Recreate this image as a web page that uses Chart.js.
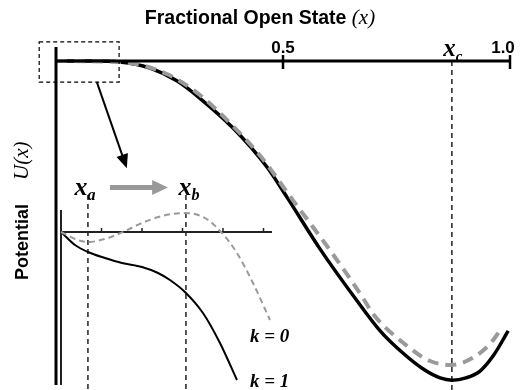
<!DOCTYPE html>
<html>
<head>
<meta charset="utf-8">
<script src="https://cdn.jsdelivr.net/npm/chart.js@4.4.0/dist/chart.umd.min.js"></script>
<style>
html, body { margin: 0; padding: 0; background: #fff; }
#wrap { position: relative; width: 522px; height: 390px; }
#main { position: absolute; left: 0; top: 0; }
#inset { position: absolute; left: 51px; top: 170px; }
</style>
</head>
<body>
<div id="wrap">
  <canvas id="main" width="522" height="390"></canvas>
  <canvas id="inset" width="250" height="220"></canvas>
</div>
<script>
// main plot: potential U(x) against fractional open state x
const mainX_k1 = [0, 0.075, 0.141, 0.207, 0.267, 0.317, 0.390, 0.465, 0.509, 0.581, 0.663, 0.714, 0.751, 0.808, 0.846, 0.872, 0.903, 0.934, 0.963, 0.996];
const mainU_k1 = [0, 0, -0.003, -0.022, -0.062, -0.115, -0.207, -0.328, -0.421, -0.579, -0.740, -0.833, -0.885, -0.950, -0.978, -0.985, -0.978, -0.957, -0.910, -0.833];
const mainX_k0 = [0, 0.141, 0.244, 0.317, 0.390, 0.449, 0.522, 0.604, 0.676, 0.698, 0.773, 0.824, 0.872, 0.918, 0.956, 0.982];
const mainU_k0 = [0, -0.003, -0.040, -0.105, -0.201, -0.291, -0.430, -0.585, -0.731, -0.780, -0.879, -0.926, -0.938, -0.916, -0.873, -0.824];
const mainTicks = [0.5, 1.0];
const mainTickLabels = ['0.5', '1.0'];
const xC = 0.872;

// inset: zoom of the region near x = 0
const insetX_k1 = [0, 0.069, 0.133, 0.217, 0.301, 0.400, 0.479, 0.538, 0.612, 0.701, 0.785, 0.869];
const insetU_k1 = [0, -0.13, -0.20, -0.26, -0.31, -0.35, -0.41, -0.48, -0.60, -0.81, -1.11, -1.48];
const insetX_k0 = [0, 0.069, 0.133, 0.217, 0.306, 0.400, 0.499, 0.612, 0.711, 0.795, 0.869, 0.948, 1.032];
const insetU_k0 = [0, -0.07, -0.10, -0.07, 0, 0.09, 0.16, 0.19, 0.14, -0.01, -0.21, -0.51, -0.88];
const insetTicks = [0.2, 0.4, 0.6, 0.8, 1.0];
const xA = 0.133, xB = 0.617;
const kLabels = ['k = 0', 'k = 1'];

const toPts = (xs, ys) => xs.map((v, i) => ({ x: v, y: ys[i] }));

const serif = "'Liberation Serif', 'DejaVu Serif', serif";
const sans = "'Liberation Sans', Arial, sans-serif";

function subLabel(ctx, cx, base, main, sub, size) {
  ctx.font = 'italic bold ' + size + 'px ' + serif;
  const w1 = ctx.measureText(main).width;
  ctx.font = 'italic bold ' + Math.round(size * 0.6) + 'px ' + serif;
  const w2 = ctx.measureText(sub).width;
  const left = cx - (w1 + w2) / 2;
  ctx.textAlign = 'left';
  ctx.textBaseline = 'alphabetic';
  ctx.font = 'italic bold ' + size + 'px ' + serif;
  ctx.fillText(main, left, base);
  ctx.font = 'italic bold ' + Math.round(size * 0.6) + 'px ' + serif;
  ctx.fillText(sub, left + w1, base + size * 0.18);
}

const mainDecor = {
  id: 'mainDecor',
  beforeDatasetsDraw(chart) {
    const { ctx, scales: { x, y } } = chart;
    const px = x.getPixelForValue(xC);
    ctx.save();
    ctx.strokeStyle = '#111';
    ctx.lineWidth = 1.4;
    ctx.setLineDash([5, 4]);
    ctx.beginPath();
    ctx.moveTo(px, y.getPixelForValue(0));
    ctx.lineTo(px, chart.height);
    ctx.stroke();
    ctx.restore();
  },
  afterDraw(chart) {
    const { ctx, scales: { x, y }, chartArea: a } = chart;
    const y0 = y.getPixelForValue(0);
    ctx.save();
    ctx.strokeStyle = '#000';
    ctx.lineWidth = 3;
    ctx.beginPath();
    ctx.moveTo(a.left, a.top);
    ctx.lineTo(a.left, a.bottom);
    ctx.stroke();
    ctx.beginPath();
    ctx.moveTo(a.left, y0);
    ctx.lineTo(x.getPixelForValue(1), y0);
    ctx.stroke();

    // ticks + labels
    ctx.fillStyle = '#000';
    ctx.font = 'bold 17px ' + sans;
    ctx.textBaseline = 'alphabetic';
    mainTicks.forEach((t, i) => {
      const px = x.getPixelForValue(t);
      ctx.lineWidth = 2.5;
      ctx.beginPath();
      ctx.moveTo(px, y0 - 6);
      ctx.lineTo(px, y0 + 8);
      ctx.stroke();
      ctx.textAlign = 'center';
      const lx = t >= 1 ? px - 7 : px;
      ctx.fillText(mainTickLabels[i], lx, 53);
    });
    subLabel(ctx, x.getPixelForValue(xC) + 1, 56, 'x', 'c', 25);

    // title
    ctx.font = 'bold 19.5px ' + sans;
    const t1 = 'Fractional Open State ';
    const w1 = ctx.measureText(t1).width;
    ctx.font = 'italic 21px ' + serif;
    const w2 = ctx.measureText('(x)').width;
    const tl = 260 - (w1 + w2) / 2;
    ctx.textAlign = 'left';
    ctx.font = 'bold 19.5px ' + sans;
    ctx.fillText(t1, tl, 24);
    ctx.font = 'italic 21px ' + serif;
    ctx.fillText('(x)', tl + w1, 24);

    // y axis title
    ctx.save();
    ctx.translate(28, 280);
    ctx.rotate(-Math.PI / 2);
    ctx.font = 'bold 18px ' + sans;
    ctx.fillText('Potential', 0, 0);
    ctx.font = 'italic 21px ' + serif;
    ctx.fillText('U(x)', 100, 0);
    ctx.restore();

    // dashed zoom box
    ctx.lineWidth = 1.2;
    ctx.setLineDash([4, 3]);
    const bx1 = x.getPixelForValue(-0.037), bx2 = x.getPixelForValue(0.139);
    const by1 = y.getPixelForValue(0.059), by2 = y.getPixelForValue(-0.065);
    ctx.strokeRect(bx1, by1, bx2 - bx1, by2 - by1);
    ctx.setLineDash([]);

    // black arrow to inset
    const ax1 = x.getPixelForValue(0.090), ay1 = y.getPixelForValue(-0.065);
    const ax2 = x.getPixelForValue(0.156), ay2 = y.getPixelForValue(-0.331);
    const ang = Math.atan2(ay2 - ay1, ax2 - ax1);
    ctx.lineWidth = 2;
    ctx.beginPath();
    ctx.moveTo(ax1, ay1);
    ctx.lineTo(ax2 - 10 * Math.cos(ang), ay2 - 10 * Math.sin(ang));
    ctx.stroke();
    ctx.beginPath();
    ctx.moveTo(ax2, ay2);
    ctx.lineTo(ax2 - 14 * Math.cos(ang) + 6 * Math.sin(ang), ay2 - 14 * Math.sin(ang) - 6 * Math.cos(ang));
    ctx.lineTo(ax2 - 14 * Math.cos(ang) - 6 * Math.sin(ang), ay2 - 14 * Math.sin(ang) + 6 * Math.cos(ang));
    ctx.closePath();
    ctx.fill();
    ctx.restore();
  }
};

new Chart(document.getElementById('main'), {
  type: 'line',
  data: {
    datasets: [
      {
        label: 'k = 0',
        data: toPts(mainX_k0, mainU_k0),
        borderColor: '#9a9a9a',
        borderWidth: 4,
        borderDash: [11, 7],
        pointRadius: 0,
        cubicInterpolationMode: 'monotone',
        fill: false
      },
      {
        label: 'k = 1',
        data: toPts(mainX_k1, mainU_k1),
        borderColor: '#000',
        borderWidth: 3.5,
        pointRadius: 0,
        cubicInterpolationMode: 'monotone',
        fill: false
      }
    ]
  },
  options: {
    responsive: false,
    animation: false,
    events: [],
    layout: { padding: { left: 56, right: 12, top: 47, bottom: 5 } },
    plugins: { legend: { display: false }, tooltip: { enabled: false } },
    scales: {
      x: { type: 'linear', display: false, min: 0, max: 1 },
      y: { display: false, min: -1.0, max: 0.0433 }
    }
  },
  plugins: [mainDecor]
});

const insetDecor = {
  id: 'insetDecor',
  beforeDatasetsDraw(chart) {
    const { ctx, scales: { x, y } } = chart;
    const y0 = y.getPixelForValue(0);
    ctx.save();
    // dashed markers at x_a and x_b
    ctx.strokeStyle = '#111';
    ctx.lineWidth = 1.4;
    ctx.setLineDash([5, 4]);
    [xA, xB].forEach(v => {
      const px = x.getPixelForValue(v);
      ctx.beginPath();
      ctx.moveTo(px, y.getPixelForValue(0.37));
      ctx.lineTo(px, chart.height);
      ctx.stroke();
    });
    ctx.setLineDash([]);
    // axes
    ctx.strokeStyle = '#222';
    ctx.lineWidth = 2;
    ctx.beginPath();
    ctx.moveTo(x.getPixelForValue(0), y.getPixelForValue(0.22));
    ctx.lineTo(x.getPixelForValue(0), y.getPixelForValue(-1.53));
    ctx.stroke();
    ctx.beginPath();
    ctx.moveTo(x.getPixelForValue(0), y0);
    ctx.lineTo(x.getPixelForValue(1.042), y0);
    ctx.stroke();
    ctx.lineWidth = 1.5;
    insetTicks.forEach(t => {
      const px = x.getPixelForValue(t);
      ctx.beginPath();
      ctx.moveTo(px, y0 - 4);
      ctx.lineTo(px, y0 + 1);
      ctx.stroke();
    });
    ctx.restore();
  },
  afterDraw(chart) {
    const { ctx, scales: { x, y } } = chart;
    ctx.save();
    ctx.fillStyle = '#000';
    subLabel(ctx, x.getPixelForValue(xA) - 3, y.getPixelForValue(0.37), 'x', 'a', 26);
    subLabel(ctx, x.getPixelForValue(xB) + 3, y.getPixelForValue(0.37), 'x', 'b', 26);

    // grey arrow from x_a to x_b
    const ay = y.getPixelForValue(0.445);
    const s1 = x.getPixelForValue(0.242), s2 = x.getPixelForValue(0.450), tip = x.getPixelForValue(0.528);
    ctx.fillStyle = '#999';
    ctx.beginPath();
    ctx.moveTo(s1, ay - 2.5);
    ctx.lineTo(s2, ay - 2.5);
    ctx.lineTo(s2, ay - 7.5);
    ctx.lineTo(tip, ay);
    ctx.lineTo(s2, ay + 7.5);
    ctx.lineTo(s2, ay + 2.5);
    ctx.lineTo(s1, ay + 2.5);
    ctx.closePath();
    ctx.fill();

    // k labels
    ctx.fillStyle = '#000';
    ctx.font = 'italic bold 19px ' + serif;
    ctx.textAlign = 'left';
    ctx.textBaseline = 'alphabetic';
    ctx.fillText(kLabels[0], x.getPixelForValue(0.933), y.getPixelForValue(-1.10));
    ctx.fillText(kLabels[1], x.getPixelForValue(0.933), y.getPixelForValue(-1.55));
    ctx.restore();
  }
};

new Chart(document.getElementById('inset'), {
  type: 'line',
  data: {
    datasets: [
      {
        label: 'k = 0',
        data: toPts(insetX_k0, insetU_k0),
        borderColor: '#9a9a9a',
        borderWidth: 2,
        borderDash: [6, 4],
        pointRadius: 0,
        cubicInterpolationMode: 'monotone',
        fill: false
      },
      {
        label: 'k = 1',
        data: toPts(insetX_k1, insetU_k1),
        borderColor: '#000',
        borderWidth: 2,
        pointRadius: 0,
        cubicInterpolationMode: 'monotone',
        fill: false
      }
    ]
  },
  options: {
    responsive: false,
    animation: false,
    events: [],
    layout: { padding: 0 },
    plugins: { legend: { display: false }, tooltip: { enabled: false } },
    scales: {
      x: { type: 'linear', display: false, min: -10 / 202.5, max: 240 / 202.5 },
      y: { display: false, min: -1.58, max: 0.62 }
    }
  },
  plugins: [insetDecor]
});
</script>
</body>
</html>
